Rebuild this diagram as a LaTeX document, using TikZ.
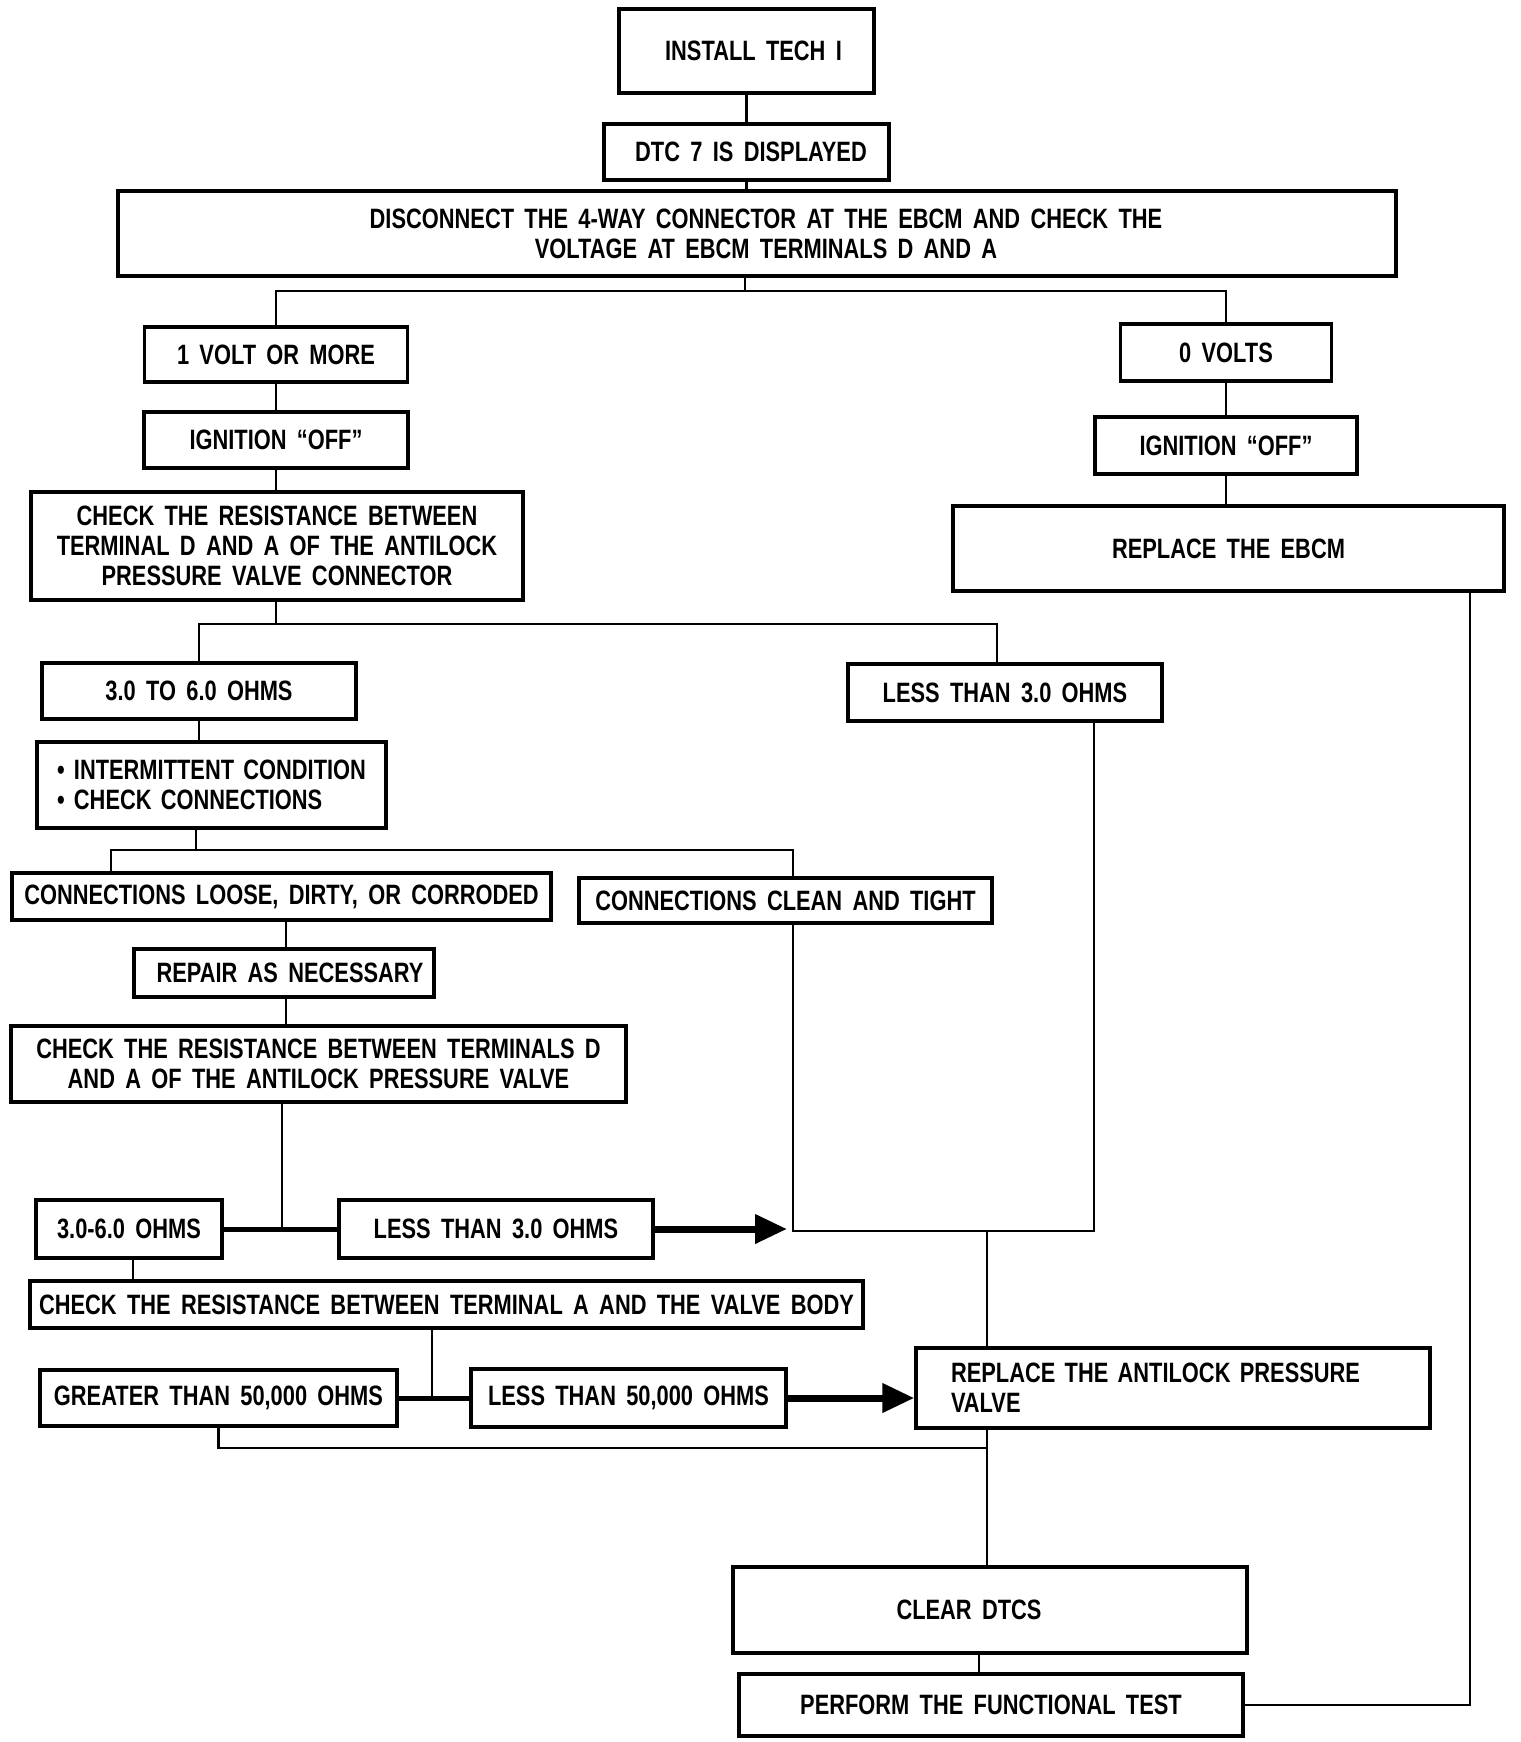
\documentclass[tikz,border=0pt]{standalone}
\usepackage{fontspec}
\setmainfont{Liberation Sans}[FakeStretch=0.78, WordSpace=1.7]
\usetikzlibrary{arrows.meta}
\begin{document}
\begin{tikzpicture}[x=1pt,y=-1pt,
  box/.style={draw, line width=3.4pt, inner sep=0pt, align=center,
    font=\bfseries\fontsize{28}{30}\selectfont},
  leftbox/.style={box, align=left},
  conn/.style={line width=2.4pt},
  thickconn/.style={line width=5pt},
  arrowconn/.style={line width=7pt, -{Triangle[length=32pt,width=28pt]}}]
\useasboundingbox (0,0) rectangle (1520,1742);

% nodes
\node[box, minimum width=255pt, minimum height=84pt] (install) at (746.5,51) {\kern14pt INSTALL TECH I};
\node[box, minimum width=285pt, minimum height=56pt] (dtc) at (746.5,152) {\kern9pt DTC 7 IS DISPLAYED};
\node[box, minimum width=1278pt, minimum height=85pt] (disc) at (757,233.5)
  {\kern18pt DISCONNECT THE 4-WAY CONNECTOR AT THE EBCM AND CHECK THE\\\kern18pt VOLTAGE AT EBCM TERMINALS D AND A};
\node[box, minimum width=263pt, minimum height=55pt] (v1) at (276,354.5) {1 VOLT OR MORE};
\node[box, minimum width=264pt, minimum height=56pt] (ignL) at (276,440) {IGNITION ``OFF''};
\node[box, minimum width=492pt, minimum height=108pt] (chkL) at (277,546)
  {CHECK THE RESISTANCE BETWEEN\\TERMINAL D AND A OF THE ANTILOCK\\PRESSURE VALVE CONNECTOR};
\node[box, minimum width=211pt, minimum height=57pt] (v0) at (1226,352.5) {0 VOLTS};
\node[box, minimum width=262pt, minimum height=57pt] (ignR) at (1226,445.5) {IGNITION ``OFF''};
\node[box, minimum width=551pt, minimum height=85pt] (repE) at (1228.5,548.5) {REPLACE THE EBCM};
\node[box, minimum width=314pt, minimum height=56pt] (o36) at (199,691) {3.0 TO 6.0 OHMS};
\node[box, minimum width=314pt, minimum height=57pt] (lt3a) at (1005,692.5) {LESS THAN 3.0 OHMS};
\node[leftbox, minimum height=86pt, text width=349pt] (inter) at (211.5,785)
  {\hspace*{20pt}\mbox{\textbullet\ INTERMITTENT CONDITION}\\\hspace*{20pt}\mbox{\textbullet\ CHECK CONNECTIONS}};
\node[box, minimum width=539pt, minimum height=47pt] (loose) at (281.5,896.5) {CONNECTIONS LOOSE, DIRTY, OR CORRODED};
\node[box, minimum width=413pt, minimum height=45pt] (clean) at (785.5,900.5) {CONNECTIONS CLEAN AND TIGHT};
\node[box, minimum width=300pt, minimum height=48pt] (repair) at (284,973) {\kern12pt REPAIR AS NECESSARY};
\node[box, minimum width=615pt, minimum height=76pt] (chkD) at (318.5,1064)
  {CHECK THE RESISTANCE BETWEEN TERMINALS D\\AND A OF THE ANTILOCK PRESSURE VALVE};
\node[box, minimum width=186pt, minimum height=58pt] (o36b) at (129,1229) {3.0-6.0 OHMS};
\node[box, minimum width=314pt, minimum height=58pt] (lt3b) at (496,1229) {LESS THAN 3.0 OHMS};
\node[box, minimum width=833pt, minimum height=47pt] (chkA) at (446.5,1304.5)
  {CHECK THE RESISTANCE BETWEEN TERMINAL A AND THE VALVE BODY};
\node[box, minimum width=357pt, minimum height=56pt] (gt50) at (218.5,1398) {GREATER THAN 50,000 OHMS};
\node[box, minimum width=315pt, minimum height=58pt] (lt50) at (628.5,1398) {LESS THAN 50,000 OHMS};
\node[leftbox, minimum height=80pt, text width=514pt] (repV) at (1173,1388)
  {\hspace*{35pt}\mbox{REPLACE THE ANTILOCK PRESSURE}\\\hspace*{35pt}VALVE};
\node[box, minimum width=514pt, minimum height=86pt] (clear) at (990,1610) {CLEAR DTCS\kern42pt};
\node[box, minimum width=504pt, minimum height=62pt] (perf) at (991,1705) {PERFORM THE FUNCTIONAL TEST};

% helper coordinates
\coordinate (j1) at (745,291);
\coordinate (j2) at (276,624);
\coordinate (x997) at (997,0);
\coordinate (j3) at (196,850);
\coordinate (j3a) at (111,850);
\coordinate (j3b) at (793,850);
\coordinate (x286) at (286,0);
\coordinate (j4) at (282,0);
\coordinate (a1) at (787,0);
\coordinate (j5) at (987,1231);
\coordinate (lx) at (1094,0);
\coordinate (x133) at (133,0);
\coordinate (j6) at (432,0);
\coordinate (j7) at (987,1448);
\coordinate (x979) at (979,0);
\coordinate (j8) at (1470,0);

% connectors
\draw[conn] (install.south) -- (dtc.north);
\draw[conn] (dtc.south) -- (dtc.south |- disc.north);
\draw[conn] (disc.south -| j1) -- (j1);
\draw[conn] (v1.north) |- (j1) -| (v0.north);
\draw[conn] (v1.south) -- (ignL.north);
\draw[conn] (ignL.south) -- (ignL.south |- chkL.north);
\draw[conn] (v0.south) -- (ignR.north);
\draw[conn] (ignR.south) -- (ignR.south |- repE.north);
\draw[conn] (chkL.south -| j2) -- (j2);
\draw[conn] (o36.north) |- (j2) -| (lt3a.north -| x997);
\draw[conn] (o36.south) -- (o36.south |- inter.north);
\draw[conn] (inter.south -| j3) -- (j3);
\draw[conn] (loose.north -| j3a) -- (j3a) -- (j3b) -- (clean.north -| j3b);
\draw[conn] (loose.south -| x286) -- (repair.north -| x286);
\draw[conn] (repair.south -| x286) -- (chkD.north -| x286);
\draw[conn] (chkD.south -| j4) -- (j4 |- o36b.east);
\draw[thickconn] (o36b.east) -- (o36b.east -| lt3b.west);
\draw[arrowconn] (lt3b.east) -- (lt3b.east -| a1);
\draw[conn] (clean.south -| j3b) -- (j3b |- j5) -- (lx |- j5) -- (lt3a.south -| lx);
\draw[conn] (j5) -- (repV.north -| j5);
\draw[conn] (o36b.south -| x133) -- (chkA.north -| x133);
\draw[conn] (chkA.south -| j6) -- (j6 |- gt50.east);
\draw[thickconn] (gt50.east) -- (gt50.east -| lt50.west);
\draw[arrowconn] (lt50.east) -- (lt50.east -| repV.west);
\draw[conn] (gt50.south) |- (j7);
\draw[conn] (repV.south -| j5) -- (clear.north -| j5);
\draw[conn] (clear.south -| x979) -- (perf.north -| x979);
\draw[conn] (repE.south -| j8) |- (perf.east);
\end{tikzpicture}
\end{document}
